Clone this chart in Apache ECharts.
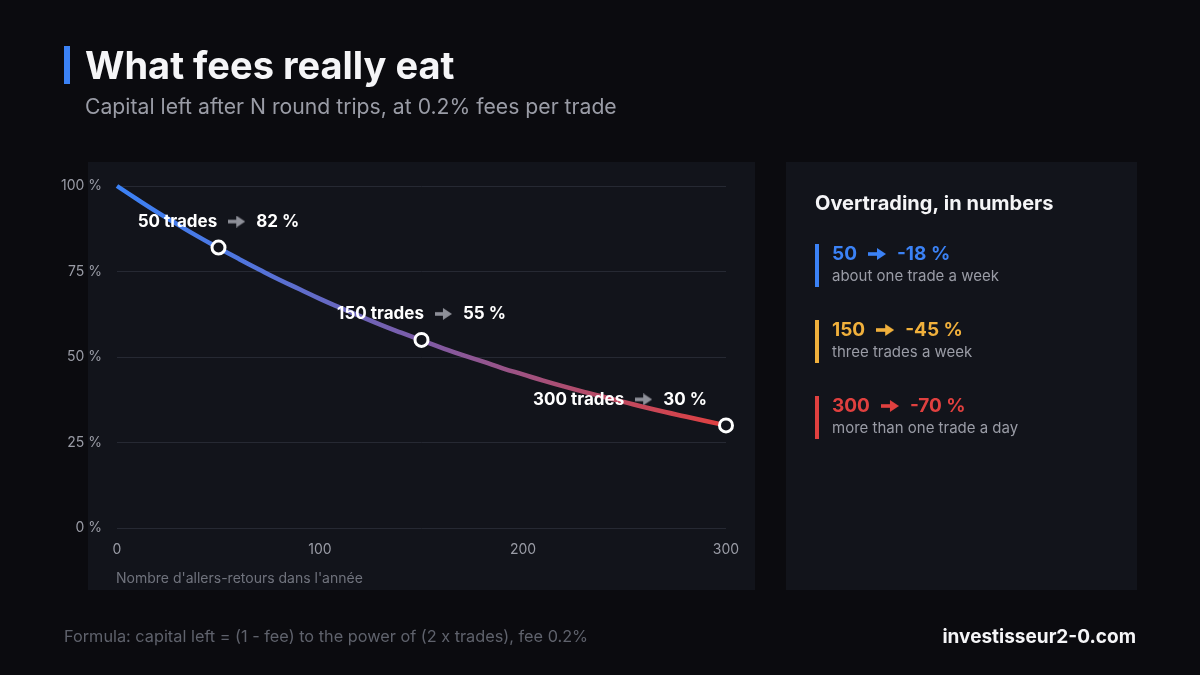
<!DOCTYPE html>
<html><head><meta charset="utf-8">
<script src="https://cdn.jsdelivr.net/npm/echarts@6/dist/echarts.min.js"></script>
<style>html,body{margin:0;padding:0;background:#0b0b0f;}#c{width:1200px;height:675px;}</style>
</head><body><div id="c"></div>
<script>
// Round trips per year (x) and capital left in % (y)
const trades = [0,10,20,30,40,50,60,70,80,90,100,110,120,130,140,150,160,170,180,190,200,210,220,230,240,250,260,270,280,290,300];
const capitalLeft = [100,96.1,92.3,88.7,85.2,81.9,78.7,75.6,72.6,69.8,67.0,64.4,61.9,59.4,57.1,54.9,52.7,50.6,48.7,46.7,44.9,43.1,41.4,39.8,38.3,36.8,35.3,33.9,32.6,31.3,30.0];
const highlightTrades = [50, 150, 300];
const highlightValues = [82, 55, 30];
const highlightLabels = ['82 %', '55 %', '30 %'];
const yTicks = [0, 25, 50, 75, 100];
const xTicks = [0, 100, 200, 300];
const sideNumbers = ['50', '150', '300'];
const sideLosses = ['-18 %', '-45 %', '-70 %'];
const sideNotes = ['about one trade a week', 'three trades a week', 'more than one trade a day'];
const sideColors = ['#3b82f6', '#f0b03c', '#e0403f'];

const FONT = 'Inter, "Noto Sans", sans-serif';

function arrowCanvas(color, w, h) {
  const c = document.createElement('canvas');
  c.width = w; c.height = h;
  const g = c.getContext('2d');
  g.fillStyle = color;
  const mid = h / 2, shaft = 3.6, head = Math.round(w * 0.5);
  g.fillRect(0, mid - shaft / 2, w - head + 1, shaft);
  g.beginPath();
  g.moveTo(w - head, 0); g.lineTo(w, mid); g.lineTo(w - head, h); g.closePath();
  g.fill();
  return c;
}

const chart = echarts.init(document.getElementById('c'), null, {renderer: 'canvas'});

const lineData = trades.map((t, i) => [t, capitalLeft[i]]);
const pointData = highlightTrades.map((t, i) => ({
  value: [t, highlightValues[i]],
  label: {
    formatter: '{a|' + t + ' trades}{sp| }{arr|}{sp| }{b|' + highlightLabels[i] + '}',
    offset: i === 2 ? [-106, 0] : [0, 0]
  }
}));

const graphics = [
  {type: 'rect', shape: {x: 64, y: 46, width: 6, height: 38}, style: {fill: '#3b82f6'}},
  {type: 'text', x: 85, y: 49, style: {text: 'What fees really eat', font: 'bold 38px ' + FONT, fill: '#f5f5f7'}},
  {type: 'text', x: 85, y: 97, style: {text: 'Capital left after N round trips, at 0.2% fees per trade', font: '21.2px ' + FONT, fill: '#9a9ca6'}},
  {type: 'rect', z: -10, shape: {x: 88, y: 162, width: 667, height: 428}, style: {fill: '#12141b'}},
  {type: 'rect', z: -10, shape: {x: 786, y: 162, width: 351, height: 428}, style: {fill: '#12141b'}},
  {type: 'text', x: 815, y: 194, style: {text: 'Overtrading, in numbers', font: 'bold 20px ' + FONT, fill: '#f5f5f7'}},
  {type: 'text', x: 64, y: 629, style: {text: 'Formula: capital left = (1 - fee) to the power of (2 x trades), fee 0.2%', font: '16.3px ' + FONT, fill: '#5f626c'}},
  {type: 'text', x: 1136, y: 628, style: {text: 'investisseur2-0.com', font: 'bold 19px ' + FONT, fill: '#f5f5f7', align: 'right'}}
];
sideNumbers.forEach((n, i) => {
  const y0 = 244 + i * 76;
  graphics.push({type: 'rect', shape: {x: 815, y: y0, width: 4, height: 43}, style: {fill: sideColors[i]}});
  graphics.push({type: 'text', x: 832, y: y0 - 3, style: {
    text: '{n|' + n + '}{sp| }{a|}{sp| }{n|' + sideLosses[i] + '}',
    rich: {
      n: {font: 'bold 19px ' + FONT, fill: sideColors[i], lineHeight: 26},
      sp: {font: 'bold 19px ' + FONT, fill: sideColors[i], lineHeight: 26, width: 11},
      a: {width: 18, height: 12, backgroundColor: {image: arrowCanvas(sideColors[i], 18, 12)}}
    }
  }});
  graphics.push({type: 'text', x: 832, y: y0 + 25, style: {text: sideNotes[i], font: '15px ' + FONT, fill: '#9a9ca6'}});
});

chart.setOption({
  backgroundColor: '#0b0b0f',
  animation: false,
  grid: {left: 117, right: 474, top: 186, bottom: 147},
  xAxis: {
    type: 'value', min: 0, max: 300, interval: 100,
    axisLine: {show: false}, axisTick: {show: false}, splitLine: {show: false},
    axisLabel: {color: '#9a9ca6', fontSize: 14, fontFamily: FONT, margin: 15},
    name: "Nombre d'allers-retours dans l'année", nameLocation: 'start',
    nameTextStyle: {color: '#70737d', fontSize: 14, fontFamily: FONT, align: 'left', verticalAlign: 'top', padding: [44, 0, 0, 14]}
  },
  yAxis: {
    type: 'value', min: 0, max: 100, interval: 25,
    axisLine: {show: false}, axisTick: {show: false},
    splitLine: {lineStyle: {color: '#262933', width: 1}},
    axisLabel: {color: '#9a9ca6', fontSize: 14, fontFamily: FONT, margin: 15, formatter: '{value} %'}
  },
  graphic: graphics,
  series: [
    {
      type: 'line', data: lineData, smooth: true, showSymbol: false, z: 2,
      lineStyle: {width: 4.5, color: new echarts.graphic.LinearGradient(0, 0, 1, 0, [
        {offset: 0, color: '#3b82f6'},
        {offset: 0.2, color: '#4f76df'},
        {offset: 0.5, color: '#7d5ba6'},
        {offset: 0.75, color: '#b04d6e'},
        {offset: 1, color: '#e2403f'}
      ])}
    },
    {
      type: 'scatter', data: pointData, z: 5,
      symbol: 'circle', symbolSize: 13,
      itemStyle: {color: '#12141b', borderColor: '#ffffff', borderWidth: 3, opacity: 1},
      label: {
        show: true, position: 'top', distance: 6,
        rich: {
          a: {color: '#ffffff', fontSize: 17, fontWeight: 'bold', fontFamily: FONT, lineHeight: 24},
          sp: {color: '#ffffff', fontSize: 17, fontFamily: FONT, lineHeight: 24, width: 11},
          arr: {width: 17, height: 12, backgroundColor: {image: arrowCanvas('#8e9099', 17, 12)}},
          b: {color: '#ffffff', fontSize: 17, fontWeight: 'bold', fontFamily: FONT, lineHeight: 24}
        }
      }
    }
  ]
});
</script></body></html>
